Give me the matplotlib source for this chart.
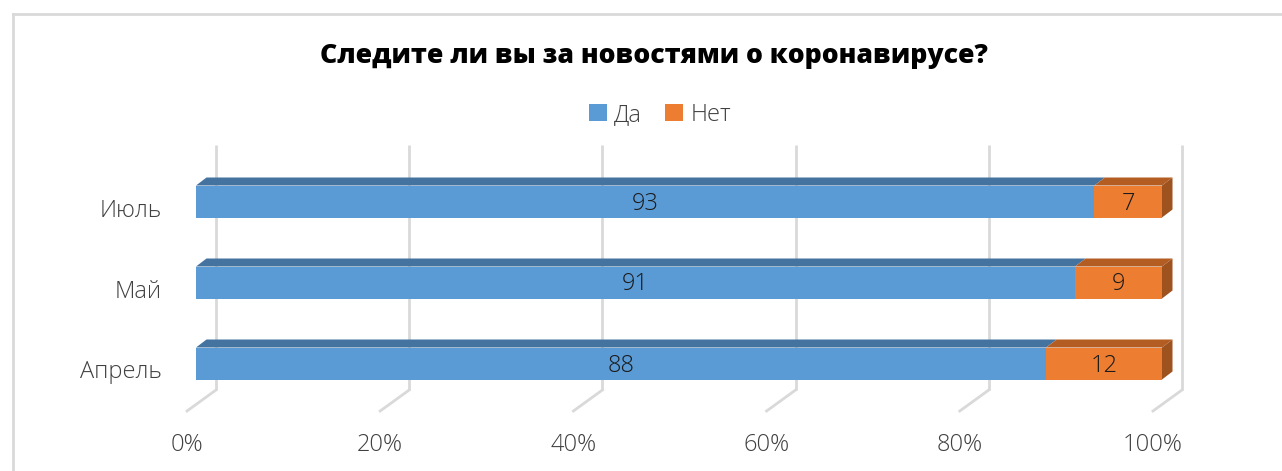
import matplotlib
matplotlib.use("Agg")
import matplotlib.pyplot as plt
from matplotlib.patches import Polygon, Patch
from matplotlib.lines import Line2D

categories = ["Апрель", "Май", "Июль"]
series_names = ["Да", "Нет"]
yes_values = [88, 91, 93]
no_values = [12, 9, 7]
x_ticks = [0, 20, 40, 60, 80, 100]
x_tick_labels = ["0%", "20%", "40%", "60%", "80%", "100%"]
title = "Следите ли вы за новостями о коронавирусе?"

W, H = 1282, 471
DPI = 100
fig = plt.figure(figsize=(W / DPI, H / DPI), dpi=DPI)
ax = fig.add_axes([0, 0, 1, 1])
ax.set_axis_off()

PX_X = 9.66          # pixels per percent
X0 = 196             # pixel of 0% on bar front
PX_Y = 81.0          # pixels per category step
Y0 = 363.5           # pixel (from top) of first category
ax.set_xlim(-X0 / PX_X, (W - X0) / PX_X)
ax.set_ylim((Y0 - H) / PX_Y, Y0 / PX_Y)

def ypx(p):
    return (Y0 - p) / PX_Y

FONT = ["Open Sans", "DejaVu Sans"]
front_cols = ["#5B9BD5", "#ED7D31"]
top_cols = ["#44739F", "#B45D23"]
side_cols = ["#44739F", "#9E521E"]
grid_col = "#D9D9D9"
text_col = "#404040"

# depth offsets
DX = 10.5 / PX_X
DY = 8 / PX_Y
WX = 20 / PX_X
FX = -9 / PX_X
wall_top = ypx(145)
wall_bot = ypx(390)
floor_y = ypx(411)

# gridlines (back wall + floor)
for v, lab in zip(x_ticks, x_tick_labels):
    ax.plot([v + WX, v + WX], [wall_bot, wall_top], color=grid_col, lw=2, zorder=1,
            solid_capstyle="butt")
    ax.plot([v + WX, v + FX], [wall_bot, floor_y], color=grid_col, lw=2, zorder=1)
    ax.text(v + FX, ypx(445), lab, ha="center", va="center", fontsize=17,
            color=text_col, family=FONT, fontweight="light")

# bars
BH = 32 / PX_Y
for i, cat in enumerate(categories):
    y = i
    b, t = y - BH / 2, y + BH / 2
    left = 0
    vals = [yes_values[i], no_values[i]]
    for k, v in enumerate(vals):
        right = left + v
        # top face
        ax.add_patch(Polygon([(left, t), (right, t), (right + DX, t + DY), (left + DX, t + DY)],
                             closed=True, facecolor=top_cols[k], edgecolor="none", zorder=3))
        # front face
        ax.add_patch(Polygon([(left, b), (right, b), (right, t), (left, t)],
                             closed=True, facecolor=front_cols[k], edgecolor="none", zorder=4))
        if k == len(vals) - 1:
            ax.add_patch(Polygon([(right, b), (right + DX, b + DY), (right + DX, t + DY), (right, t)],
                                 closed=True, facecolor=side_cols[k], edgecolor="none", zorder=3))
        ax.text((left + right) / 2, y - 2 / PX_Y, str(v), ha="center", va="center",
                fontsize=17, color="#1A1A1A", family=FONT, fontweight="light", zorder=5)
        left = right
    ax.text(-34 / PX_X, y - 9 / PX_Y, cat, ha="right", va="center", fontsize=17,
            color=text_col, family=FONT, fontweight="light")

# title
fig.text(654 / W, 1 - 56 / H, title, ha="center", va="center", fontsize=19.2,
         fontweight="heavy", family=FONT, color="#000000")

# legend
handles = [Patch(facecolor=front_cols[0], edgecolor="none"),
           Patch(facecolor=front_cols[1], edgecolor="none")]
leg = fig.legend(handles, series_names, loc="center", bbox_to_anchor=(660 / W, 1 - 115 / H),
                 ncol=2, frameon=False, handlelength=0.75, handleheight=0.75,
                 handletextpad=0.3, columnspacing=1.0,
                 prop={"family": FONT, "size": 17, "weight": "light"})
for txt in leg.get_texts():
    txt.set_color(text_col)

# chart border
fig.add_artist(Line2D([13 / W, 13 / W], [-0.01, 1 - 14 / H], transform=fig.transFigure,
                      color=grid_col, lw=2))
fig.add_artist(Line2D([13 / W, 1.01], [1 - 14 / H, 1 - 14 / H], transform=fig.transFigure,
                      color=grid_col, lw=2))

fig.savefig("out.png", dpi=DPI)
